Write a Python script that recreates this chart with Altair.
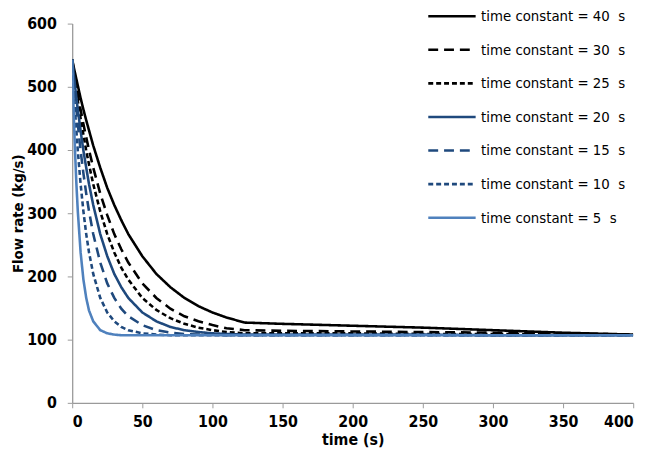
import altair as alt
import pandas as pd

times = [0, 1, 2, 3, 4, 6, 8, 10, 12, 15, 20, 25, 30, 35, 40, 50, 60, 70, 80, 90, 100, 110, 123, 150, 200, 250, 300, 350, 400]

tc40 = [543, 532, 522, 512, 502, 482, 464, 447, 431, 407, 372, 340, 313, 289, 267, 232, 204, 183, 166, 153, 143, 135, 127, 125, 122, 119, 115, 111, 108]
tc30 = [543, 529, 515, 501, 488, 464, 441, 420, 400, 372, 331, 297, 267, 243, 222, 189, 166, 149, 137, 129, 123, 118, 115, 114, 113, 112, 111, 110, 108]
tc25 = [543, 526, 509, 493, 478, 450, 424, 399, 377, 346, 303, 267, 238, 214, 195, 166, 147, 134, 125, 119, 115, 112, 110, 110, 110, 109, 109, 108, 108]
tc20 = [543, 522, 502, 482, 464, 430, 399, 372, 346, 313, 267, 232, 204, 183, 166, 143, 129, 120, 115, 112, 110, 109, 108, 108, 108, 108, 107, 107, 107]
tc15 = [543, 515, 488, 464, 441, 399, 363, 331, 303, 267, 222, 189, 166, 149, 137, 123, 115, 111, 109, 108, 108, 107, 107, 107, 107, 107, 107, 107, 107]
tc10 = [543, 502, 464, 430, 399, 346, 303, 267, 238, 204, 166, 143, 129, 120, 115, 110, 108, 107, 107, 107, 107, 107, 107, 107, 107, 107, 107, 107, 107]
tc5 = [543, 464, 399, 346, 303, 238, 195, 166, 146, 129, 115, 110, 108, 107, 107, 107, 107, 107, 107, 107, 107, 107, 107, 107, 107, 107, 107, 107, 107]

labels = [
    "time constant = 40 \u00a0s",
    "time constant = 30 \u00a0s",
    "time constant = 25 \u00a0s",
    "time constant = 20 \u00a0s",
    "time constant = 15 \u00a0s",
    "time constant = 10 \u00a0s",
    "time constant = 5 \u00a0s",
]
series = [tc40, tc30, tc25, tc20, tc15, tc10, tc5]
colors = ["#000000", "#000000", "#000000", "#1F497D", "#1F497D", "#1F497D", "#4F81BD"]
dashes = [[1, 0], [10, 6], [5, 3], [1, 0], [10, 6], [5, 3], [1, 0]]

rows = []
for i, (lab, vals) in enumerate(zip(labels, series)):
    for t, v in zip(times, vals):
        rows.append({"series": lab, "time": t, "flow": v, "k": i})
df = pd.DataFrame(rows)

FONT = "Liberation Sans Narrow, DejaVu Sans Condensed, sans-serif"

leg = alt.Legend(title=None, orient="none", legendX=359, legendY=-33)

chart = alt.Chart(df).mark_line(strokeWidth=2.6, clip=True).encode(
    x=alt.X("time:Q", title="time (s)",
            scale=alt.Scale(domain=[0, 400], nice=False),
            axis=alt.Axis(values=list(range(0, 401, 50)), grid=False)),
    y=alt.Y("flow:Q", title="Flow rate (kg/s)",
            scale=alt.Scale(domain=[0, 600], nice=False),
            axis=alt.Axis(values=list(range(0, 601, 100)), grid=False)),
    color=alt.Color("series:N", scale=alt.Scale(domain=labels, range=colors), legend=leg),
    strokeDash=alt.StrokeDash("series:N", scale=alt.Scale(domain=labels, range=dashes), legend=leg),
    order=alt.Order("time:Q"),
    detail="k:N",
).properties(
    width=568, height=384,
    autosize=alt.AutoSizeParams(type="none"),
    padding={"left": 65, "top": 13, "right": 16, "bottom": 50},
).configure_view(
    stroke=None
).configure_axis(
    domainColor="#9a9a9a", tickColor="#9a9a9a", tickSize=5, domainWidth=1.3,
    labelFont=FONT, labelFontSize=16, labelFontWeight="bold", labelColor="#000000",
    titleFont=FONT, titleFontSize=16, titleFontWeight="bold", titleColor="#000000",
).configure_axisY(
    labelPadding=11, titlePadding=1, titleFontSize=15,
).configure_axisX(
    labelPadding=6, titlePadding=2,
).configure_legend(
    symbolType="stroke", symbolSize=2300, symbolStrokeWidth=2.6,
    labelFont=FONT, labelFontSize=15, labelColor="#000000", labelOffset=4,
    rowPadding=-14.5,
)

chart.save("out.html", embed_options={"renderer": "svg", "actions": False})
